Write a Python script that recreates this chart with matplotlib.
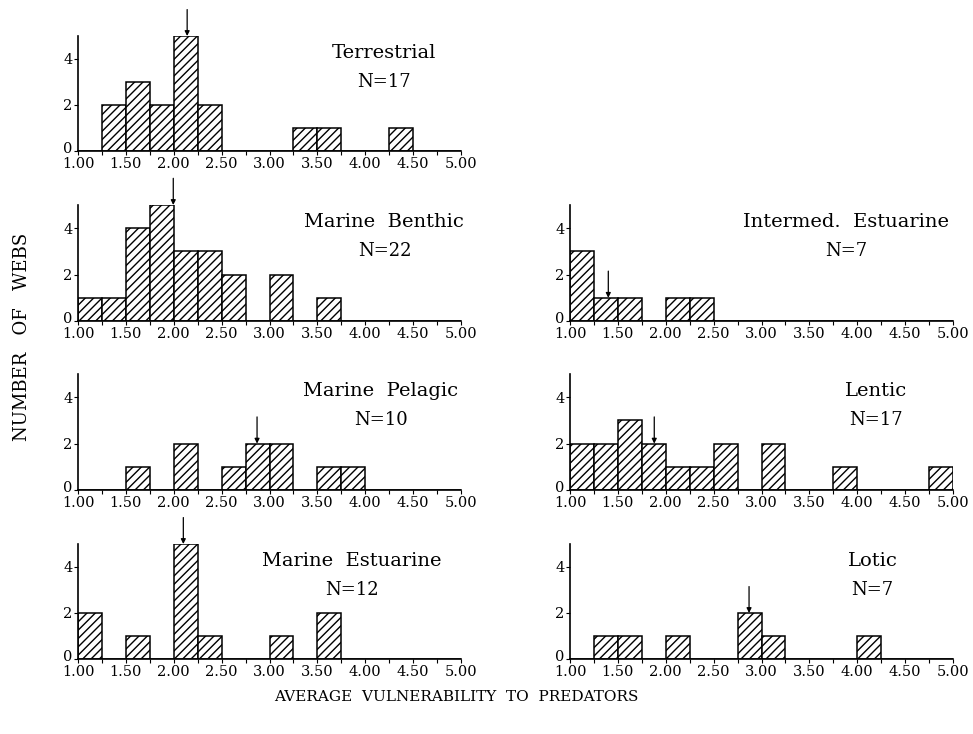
import numpy as np
import matplotlib
matplotlib.use("Agg")
import matplotlib.pyplot as plt
import matplotlib.transforms as mtransforms

plt.rcParams['font.family'] = ['DejaVu Serif']
plt.rcParams['hatch.linewidth'] = 1.0

# bin left edges, width 0.25
bin_edges = [1.00, 1.25, 1.50, 1.75, 2.00, 2.25, 2.50, 2.75,
             3.00, 3.25, 3.50, 3.75, 4.00, 4.25, 4.50, 4.75]

terrestrial = [0, 2, 3, 2, 5, 2, 0, 0, 0, 1, 1, 0, 0, 1, 0, 0]
marine_benthic = [1, 1, 4, 5, 3, 3, 2, 0, 2, 0, 1, 0, 0, 0, 0, 0]
intermed_estuarine = [3, 1, 1, 0, 1, 1, 0, 0, 0, 0, 0, 0, 0, 0, 0, 0]
marine_pelagic = [0, 0, 1, 0, 2, 0, 1, 2, 2, 0, 1, 1, 0, 0, 0, 0]
lentic = [2, 2, 3, 2, 1, 1, 2, 0, 2, 0, 0, 1, 0, 0, 0, 1]
marine_estuarine = [2, 0, 1, 0, 5, 1, 0, 0, 1, 0, 2, 0, 0, 0, 0, 0]
lotic = [0, 1, 1, 0, 1, 0, 0, 2, 1, 0, 0, 0, 1, 0, 0, 0]

names = ["Terrestrial", "Marine  Benthic", "Intermed.  Estuarine", "Marine  Pelagic",
         "Lentic", "Marine  Estuarine", "Lotic"]
counts = [terrestrial, marine_benthic, intermed_estuarine, marine_pelagic,
          lentic, marine_estuarine, lotic]
# mean vulnerability (arrow position)
means = [2.14, 1.995, 1.40, 2.87, 1.88, 2.10, 2.87]

W, H = 973, 734
fig = plt.figure(figsize=(W / 100, H / 100), dpi=100)

def px_axes(x0, x1, ytop, ybot):
    return fig.add_axes([x0 / W, 1 - ybot / H, (x1 - x0) / W, (ybot - ytop) / H])

left_x = (78, 461)
right_x = (570, 953)
rows = [(36, 151), (205, 321), (374, 490), (544, 659)]

slots = [(left_x, rows[0]), (left_x, rows[1]), (right_x, rows[1]),
         (left_x, rows[2]), (right_x, rows[2]), (left_x, rows[3]), (right_x, rows[3])]
# label positions (axes fraction)
label_x = [0.80, 0.80, 0.72, 0.79, 0.80, 0.715, 0.79]

lift = mtransforms.ScaledTranslation(0, 2.5 / 72, fig.dpi_scale_trans)

for i, (name, c, m, (xs, ys)) in enumerate(zip(names, counts, means, slots)):
    ax = px_axes(xs[0], xs[1], ys[0], ys[1])
    ax.bar(bin_edges, c, width=0.25, align='edge', color='white',
           edgecolor='black', hatch='////', linewidth=1.1)
    ax.set_xlim(1.0, 5.0)
    ax.set_ylim(0, 5)
    for s in ['top', 'right']:
        ax.spines[s].set_visible(False)
    ax.spines['left'].set_linewidth(1.2)
    ax.spines['bottom'].set_linewidth(1.2)
    ax.set_xticks(np.arange(1.0, 5.01, 0.5))
    ax.set_xticklabels(["%.2f" % v for v in np.arange(1.0, 5.01, 0.5)])
    ax.set_xticks(np.arange(1.0, 5.01, 0.25), minor=True)
    ax.set_yticks([0, 2, 4])
    ax.tick_params(axis='x', which='both', direction='out', length=3, width=0.8, pad=1, labelsize=10.5)
    ax.tick_params(axis='y', direction='out', length=3, width=0.8, pad=1, labelsize=10.5)
    zero_lab = ax.get_yticklabels()[0]
    zero_lab.set_transform(zero_lab.get_transform() + lift)
    ax.text(label_x[i], 0.85, name, transform=ax.transAxes, ha='center', va='center', fontsize=14)
    ax.text(label_x[i], 0.60, "N=%d" % sum(c), transform=ax.transAxes, ha='center', va='center', fontsize=13)
    # arrow at the mean
    k = int((m - 1.0) // 0.25)
    tip = c[k]
    ax.annotate("", xy=(m, tip), xytext=(m, tip + 1.15),
                arrowprops=dict(arrowstyle='-|>', color='black', lw=0.9,
                                mutation_scale=7, shrinkA=0, shrinkB=0),
                annotation_clip=False)

fig.text(22 / W, 1 - 337 / H, "NUMBER   OF   WEBS", rotation=90, ha='center', va='center', fontsize=13)
fig.text(456 / W, 1 - 697 / H, "AVERAGE  VULNERABILITY  TO  PREDATORS", ha='center', va='center', fontsize=11)

fig.savefig("out.png", dpi=100)
